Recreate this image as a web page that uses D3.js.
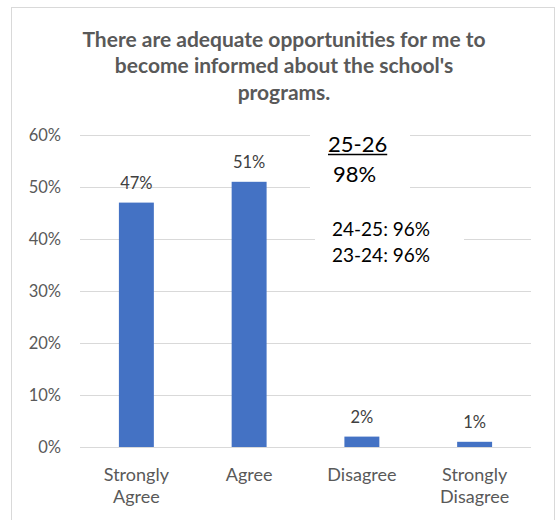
<!DOCTYPE html>
<html>
<head>
<meta charset="utf-8">
<script src="https://cdn.jsdelivr.net/npm/d3@7"></script>
<style>
  html, body { margin: 0; padding: 0; background: #fff; }
  svg { display: block; }
  text { font-family: Lato, "Open Sans", sans-serif; }
</style>
</head>
<body>
<svg id="chart" width="556" height="520"></svg>
<script>
// Survey responses
const categories = [["Strongly", "Agree"], ["Agree"], ["Disagree"], ["Strongly", "Disagree"]];
const shares = [0.47, 0.51, 0.02, 0.01];
const yTicks = [0, 0.1, 0.2, 0.3, 0.4, 0.5, 0.6];
const titleLines = ["There are adequate opportunities for me to", "become informed about the school's", "programs."];
const currentYear = "25-26";
const currentValue = "98%";
const pastYears = ["24-25: 96%", "23-24: 96%"];

const svg = d3.select("#chart");
const W = 556, H = 520;
const margin = { top: 135, right: 25, bottom: 73, left: 80 };
const plotW = W - margin.left - margin.right;
const plotH = H - margin.top - margin.bottom;

// chart frame
svg.append("rect")
  .attr("x", 11.5).attr("y", 7.5).attr("width", 543).attr("height", 520)
  .attr("fill", "#fff").attr("stroke", "#d9d9d9").attr("stroke-width", 1);

// title
svg.append("g").selectAll("text").data(titleLines).join("text")
  .attr("x", 284).attr("y", (d, i) => 46.5 + i * 26.5)
  .attr("text-anchor", "middle")
  .attr("font-size", 21).attr("font-weight", 700).attr("fill", "#595959")
  .text(d => d);

const g = svg.append("g").attr("transform", `translate(${margin.left},${margin.top})`);

const x = d3.scaleBand().domain(d3.range(categories.length)).range([0, plotW]).paddingInner(0.69).paddingOuter(0.345);
const y = d3.scaleLinear().domain([0, 0.6]).range([plotH, 0]);

// gridlines
g.append("g").selectAll("line").data(yTicks).join("line")
  .attr("x1", 0).attr("x2", plotW)
  .attr("y1", d => Math.round(y(d)) + 0.5).attr("y2", d => Math.round(y(d)) + 0.5)
  .attr("stroke", "#d9d9d9").attr("stroke-width", 1);

// y axis labels
const yAxis = g.append("g").attr("transform", "translate(-19,0)")
  .call(d3.axisLeft(y).tickValues(yTicks).tickFormat(d3.format(".0%")).tickSize(0).tickPadding(0));
yAxis.select(".domain").remove();
yAxis.selectAll("text").attr("font-size", 16.5).attr("fill", "#595959").attr("font-family", "Lato, sans-serif");

// bars
g.append("g").selectAll("rect").data(shares).join("rect")
  .attr("x", (d, i) => x(i)).attr("width", x.bandwidth())
  .attr("y", d => y(d)).attr("height", d => plotH - y(d))
  .attr("fill", "#4472c4");

// value labels
g.append("g").selectAll("text").data(shares).join("text")
  .attr("x", (d, i) => x(i) + x.bandwidth() / 2)
  .attr("y", d => y(d) - 13.5)
  .attr("text-anchor", "middle")
  .attr("font-size", 16.5).attr("fill", "#404040")
  .text(d => d3.format(".0%")(d));

// category labels
const xl = g.append("g").selectAll("text").data(categories).join("text")
  .attr("x", (d, i) => x(i) + x.bandwidth() / 2)
  .attr("y", plotH + 34)
  .attr("text-anchor", "middle")
  .attr("font-size", 18).attr("fill", "#595959");
xl.selectAll("tspan").data(d => d).join("tspan")
  .attr("x", function () { return this.parentNode.getAttribute("x"); })
  .attr("dy", (d, i) => i === 0 ? 0 : 21.5)
  .text(d => d);

// annotation boxes
svg.append("rect").attr("x", 310).attr("y", 128).attr("width", 100).attr("height", 66).attr("fill", "#fff");
svg.append("rect").attr("x", 315).attr("y", 212).attr("width", 149).attr("height", 58).attr("fill", "#fff");

const yr = svg.append("text").attr("x", 328).attr("y", 152)
  .attr("font-size", 22).attr("fill", "#000").text(currentYear);
const yrW = yr.node().getComputedTextLength();
svg.append("line").attr("x1", 328).attr("x2", 328 + yrW).attr("y1", 154.5).attr("y2", 154.5)
  .attr("stroke", "#000").attr("stroke-width", 1.5);
svg.append("text").attr("x", 333).attr("y", 182)
  .attr("font-size", 22).attr("fill", "#000").text(currentValue);

svg.append("g").selectAll("text").data(pastYears).join("text")
  .attr("x", 332).attr("y", (d, i) => 236 + i * 26)
  .attr("font-size", 19).attr("fill", "#000")
  .text(d => d);
</script>
</body>
</html>
